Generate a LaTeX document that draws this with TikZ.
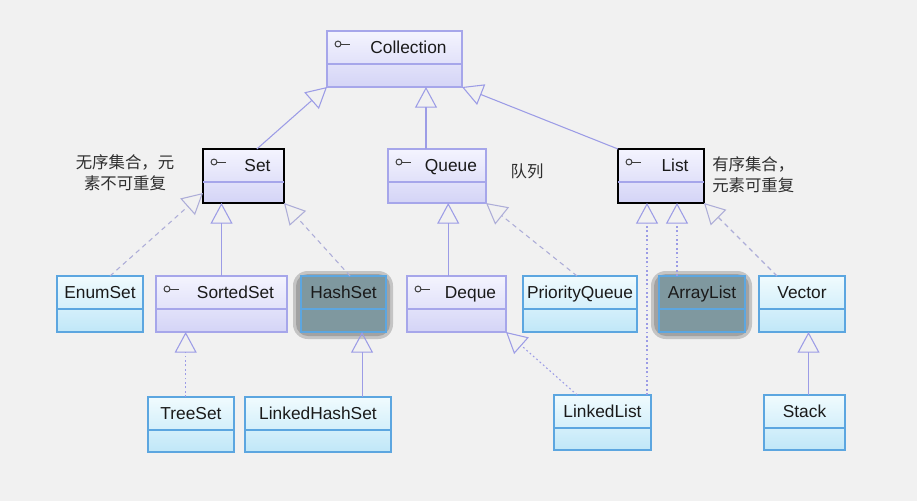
\documentclass[tikz,border=0pt]{standalone}
\usepackage{fontspec}
\setmainfont{Liberation Sans}
\newfontfamily\cjk{Noto Sans CJK SC}
\usetikzlibrary{arrows.meta}
\definecolor{bg}{HTML}{F1F1F1}
\definecolor{lav}{HTML}{9C9CE6}
\definecolor{lavdash}{HTML}{ADADD8}
\definecolor{ifborder}{HTML}{A6A6EA}
\definecolor{iftop}{HTML}{F4F4FE}
\definecolor{ifbot}{HTML}{D4D4F6}
\definecolor{clborder}{HTML}{5CA6E0}
\definecolor{cltop}{HTML}{F0FBFE}
\definecolor{clbot}{HTML}{C0E7F8}
\definecolor{hsfill}{HTML}{7F989F}
\definecolor{shadowc}{HTML}{A2A2A2}
\definecolor{shadowo}{HTML}{C4C4C4}
\definecolor{txt}{HTML}{1A1A1A}
\definecolor{note}{HTML}{2E2E2E}
\tikzset{
  box/.style={rectangle, inner sep=0pt, outer sep=0pt},
  iface/.style={box, draw=ifborder, line width=0.9pt, top color=iftop, bottom color=ifbot},
  ifacebold/.style={box, draw=black, line width=1.9pt, top color=iftop, bottom color=ifbot},
  cls/.style={box, draw=clborder, line width=0.9pt, top color=cltop, bottom color=clbot},
  clsdark/.style={box, draw=clborder, line width=0.9pt, fill=hsfill},
  lbl/.style={inner sep=0pt, anchor=base, font=\fontsize{13}{14}\selectfont, text=txt},
  notetext/.style={inner sep=0pt, font=\cjk\fontsize{12.3}{15.5}\selectfont, text=note},
  inh/.style={draw=lav, line width=0.8pt, -{Triangle[open, length=15.5pt, width=16.5pt, line width=0.8pt]}},
  real/.style={inh, draw=lavdash, dash pattern=on 3.5pt off 3pt},
  dotreal/.style={inh, dash pattern=on 1.3pt off 2pt},
  halo/.style={fill=shadowc, rounded corners=9pt},
  haloout/.style={fill=shadowo, rounded corners=11pt},
}
% #1 style, #2 divider colour, #3 name, #4 x1, #5 y1, #6 x2, #7 y2, #8 text
\newcommand\umlbox[8]{%
  \node[#1, minimum width={(#6-#4)*0.75pt}, minimum height={(#7-#5)*0.75pt}] (#3) at ({(#4+#6)/2},{(#5+#7)/2}) {};
  \draw[#2, line width=0.9pt] ({#4},{#5+33}) -- ({#6},{#5+33});
  \node[lbl] (#3-t) at ({(#4+#6)/2},{#5+22}) {#8};
}
\newcommand\umliface[8]{%
  \node[#1, minimum width={(#6-#4)*0.75pt}, minimum height={(#7-#5)*0.75pt}] (#3) at ({(#4+#6)/2},{(#5+#7)/2}) {};
  \draw[#2, line width=0.9pt] ({#4},{#5+33}) -- ({#6},{#5+33});
  \draw[txt!85, line width=0.75pt] ({#4+11},{#5+13}) circle[radius=2.2pt];
  \draw[txt!85, line width=0.75pt] ({#4+14},{#5+13}) -- ({#4+23},{#5+13});
  \node[lbl] (#3-t) at ({(#4+#6+22)/2+3},{#5+22}) {#8};
}
\begin{document}
\begin{tikzpicture}[x=0.75pt, y=-0.75pt]
\fill[bg] (0,0) rectangle (917,501);
\useasboundingbox (0,0) rectangle (917,501);

% shadows
\fill[haloout] (293,271) rectangle (393,339);
\fill[halo] (296,274) rectangle (390,336);
\fill[haloout] (651,271) rectangle (752,339);
\fill[halo] (654,274) rectangle (749,336);

% top
\umliface{iface}{ifborder}{coll}{327}{31}{462}{87}{Collection}
% second row
\umliface{ifacebold}{ifborder}{set}{203}{149}{284}{203}{Set}
\umliface{iface}{ifborder}{queue}{388}{149}{486}{203}{Queue}
\umliface{ifacebold}{ifborder}{list}{618}{149}{704}{203}{List}
% third row
\umlbox{cls}{clborder}{enumset}{57}{276}{143}{332}{EnumSet}
\umliface{iface}{ifborder}{sortedset}{156}{276}{287}{332}{SortedSet}
\umlbox{clsdark}{clborder}{hashset}{301}{276}{386}{332}{HashSet}
\umliface{iface}{ifborder}{deque}{407}{276}{506}{332}{Deque}
\umlbox{cls}{clborder}{pq}{523}{276}{637}{332}{PriorityQueue}
\umlbox{clsdark}{clborder}{arraylist}{659}{276}{745}{332}{ArrayList}
\umlbox{cls}{clborder}{vector}{759}{276}{845}{332}{Vector}
% bottom row
\umlbox{cls}{clborder}{treeset}{148}{397}{234}{452}{TreeSet}
\umlbox{cls}{clborder}{lhs}{245}{397}{391}{452}{LinkedHashSet}
\umlbox{cls}{clborder}{linkedlist}{554}{395}{651}{450}{LinkedList}
\umlbox{cls}{clborder}{stack}{764}{395}{845}{450}{Stack}

% notes
\node[notetext, align=center] (noteset) at (125,172.5) {无序集合，元\\素不可重复};
\node[notetext] (notequeue) at (527,171) {队列};
\node[notetext, align=left, anchor=west] (notelist) at (712,175) {有序集合，\\元素可重复};

% helper coordinates
\coordinate (qup) at ([xshift=-8.25pt]queue.north);
\coordinate (dqup) at ([xshift=-6.2pt]deque.north);
\coordinate (hsdown) at ([xshift=13.9pt]hashset.south);
\coordinate (tsup) at ([xshift=-4pt]treeset.north);
\coordinate (llup) at ([xshift=-3pt]linkedlist.north east);
\coordinate (alup) at ([xshift=13.5pt]arraylist.north west);
\coordinate (stup) at ([xshift=3pt]stack.north);

% connectors to Collection
\draw[inh] ([xshift=10pt]set.north) -- (coll.south west);
\draw[inh] (qup) -- (qup |- coll.south);
\draw[inh] (list.north west) -- (coll.south east);
% to Set
\draw[real] ([xshift=7.5pt]enumset.north) -- ([yshift=7.5pt]set.south west);
\draw[inh] (sortedset.north) -- (sortedset.north |- set.south);
\draw[real] ([xshift=4.9pt]hashset.north) -- (set.south east);
% to Queue
\draw[inh] (dqup) -- (dqup |- queue.south);
\draw[real] ([xshift=-2.2pt]pq.north) -- (queue.south east);
% to List
\draw[dotreal] (llup) -- (llup |- list.south);
\draw[dotreal] (alup) -- (alup |- list.south);
\draw[real] ([xshift=-18.75pt]vector.north) -- (list.south east);
% bottom row
\draw[dotreal] (tsup) -- (tsup |- sortedset.south);
\draw[inh] (hsdown |- lhs.north) -- (hsdown);
\draw[dotreal] ([xshift=-19pt]linkedlist.north) -- (deque.south east);
\draw[inh] (stup) -- (stup |- vector.south);
\end{tikzpicture}
\end{document}
